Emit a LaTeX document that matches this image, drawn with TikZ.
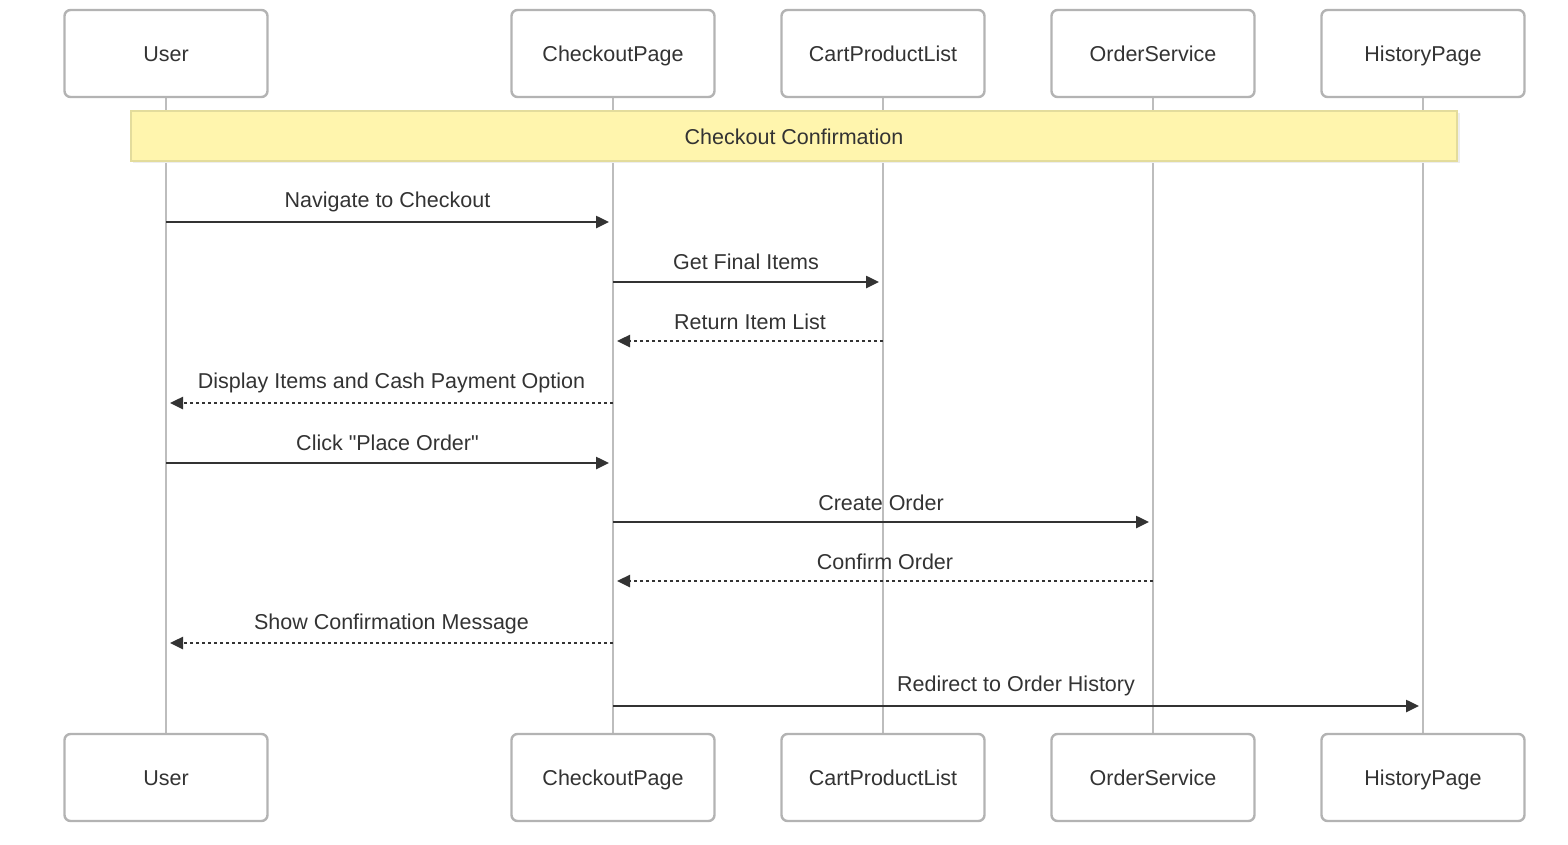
\documentclass[tikz,border=0pt]{standalone}
\usepackage{fontspec}
\setmainfont{Liberation Sans}[Ligatures=TeXOff]
\usetikzlibrary{arrows.meta}
\definecolor{boxline}{HTML}{B3B3B3}
\definecolor{lifeline}{HTML}{BDBDBD}
\definecolor{ink}{HTML}{333333}
\definecolor{notefill}{HTML}{FFF5AD}
\definecolor{noteline}{HTML}{E3DC9C}
\tikzset{
  actorbox/.style={draw=boxline, line width=2.4pt, rounded corners=6pt, fill=white,
    minimum width=203pt, minimum height=87pt, inner sep=0pt, text=ink,
    text height=16.4pt, text depth=0pt,
    font=\fontsize{21.5pt}{24pt}\selectfont},
  life/.style={draw=lifeline, line width=2pt},
  msg/.style={draw=ink, line width=2.5pt, -{Triangle[length=13pt,width=12pt]}},
  reply/.style={msg, dash pattern=on 3pt off 3pt},
  msglabel/.style={text=ink, font=\fontsize{21.5pt}{24pt}\selectfont, inner sep=0pt, anchor=base},
}
\begin{document}
\begin{tikzpicture}[x=1pt,y=-1pt]
\useasboundingbox (0,0) rectangle (1568,844);
% lifelines (drawn first, behind everything)
\foreach \n/\x in {u/166, c/613, l/883, o/1153, h/1423}{
  \coordinate (\n top) at (\x,97);
  \coordinate (\n bot) at (\x,734);
  \draw[life] (\n top) -- (\n bot);
}
% top and bottom actors
\foreach \n/\x/\t in {u/166/User, c/613/CheckoutPage, l/883/CartProductList, o/1153/OrderService, h/1423/HistoryPage}{
  \node[actorbox] (\n t) at (\x,53.5) {\t};
  \node[actorbox] (\n b) at (\x,777.5) {\t};
}
% note with soft shadow
\fill[black!7] (133,113) rectangle (1460,163);
\node[draw=noteline, line width=2pt, fill=notefill, minimum width=1326pt, minimum height=50pt,
  inner sep=0pt, text=ink, text height=16.4pt, text depth=0pt,
  font=\fontsize{21.5pt}{24pt}\selectfont] (note) at (794,136) {Checkout Confirmation};
% message anchor coordinates on lifelines
\foreach \n/\x in {u/166, c/613, l/883, o/1153, h/1423}{
  \foreach \k/\y in {1/222, 2/282, 3/341, 4/403, 5/463, 6/522, 7/581, 8/643, 9/706}{
    \coordinate (\n\k) at (\x,\y);
  }
}
% messages
\draw[msg] (u1) -- ([xshift=-4pt]c1) node[msglabel, midway, yshift=15pt] {Navigate to Checkout};
\draw[msg] (c2) -- ([xshift=-4pt]l2) node[msglabel, midway, yshift=13pt] {Get Final Items};
\draw[reply] (l3) -- ([xshift=4pt]c3) node[msglabel, midway, yshift=12pt] {Return Item List};
\draw[reply] (c4) -- ([xshift=4pt]u4) node[msglabel, midway, yshift=15pt] {Display Items and Cash Payment Option};
\draw[msg] (u5) -- ([xshift=-4pt]c5) node[msglabel, midway, yshift=13pt] {Click "Place Order"};
\draw[msg] (c6) -- ([xshift=-4pt]o6) node[msglabel, midway, yshift=12pt] {Create Order};
\draw[reply] (o7) -- ([xshift=4pt]c7) node[msglabel, midway, yshift=12pt] {Confirm Order};
\draw[reply] (c8) -- ([xshift=4pt]u8) node[msglabel, midway, yshift=14pt] {Show Confirmation Message};
\draw[msg] (c9) -- ([xshift=-4pt]h9) node[msglabel, midway, yshift=15pt] {Redirect to Order History};
\end{tikzpicture}
\end{document}
